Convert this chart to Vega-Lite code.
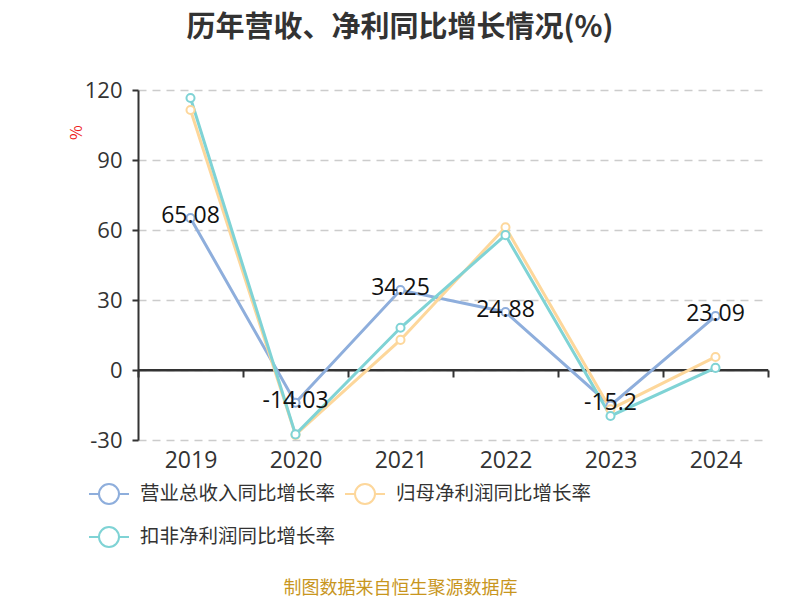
{
  "$schema": "https://vega.github.io/schema/vega-lite/v6.json",
  "width": 630,
  "height": 350,
  "autosize": {"type": "none"},
  "padding": {"left": 138, "top": 90, "right": 32, "bottom": 160},
  "background": "white",
  "config": {
    "font": "Noto Sans CJK SC",
    "view": {"stroke": null}
  },
  "title": {
    "text": "历年营收、净利同比增长情况(%)",
    "fontSize": 29,
    "fontWeight": "bold",
    "color": "#333333",
    "anchor": "middle",
    "dx": -53,
    "offset": 36
  },
  "data": {
    "values": [
      {"year": "2019", "series": "营业总收入同比增长率", "value": 65.08},
      {"year": "2020", "series": "营业总收入同比增长率", "value": -14.03},
      {"year": "2021", "series": "营业总收入同比增长率", "value": 34.25},
      {"year": "2022", "series": "营业总收入同比增长率", "value": 24.88},
      {"year": "2023", "series": "营业总收入同比增长率", "value": -15.2},
      {"year": "2024", "series": "营业总收入同比增长率", "value": 23.09},
      {"year": "2019", "series": "归母净利润同比增长率", "value": 111.4},
      {"year": "2020", "series": "归母净利润同比增长率", "value": -27.8},
      {"year": "2021", "series": "归母净利润同比增长率", "value": 12.9},
      {"year": "2022", "series": "归母净利润同比增长率", "value": 61.2},
      {"year": "2023", "series": "归母净利润同比增长率", "value": -16.8},
      {"year": "2024", "series": "归母净利润同比增长率", "value": 5.6},
      {"year": "2019", "series": "扣非净利润同比增长率", "value": 116.6},
      {"year": "2020", "series": "扣非净利润同比增长率", "value": -27.6},
      {"year": "2021", "series": "扣非净利润同比增长率", "value": 18.1},
      {"year": "2022", "series": "扣非净利润同比增长率", "value": 57.8},
      {"year": "2023", "series": "扣非净利润同比增长率", "value": -19.7},
      {"year": "2024", "series": "扣非净利润同比增长率", "value": 0.9}
    ]
  },
  "layer": [
    {
      "mark": {"type": "rule", "color": "#333333", "strokeWidth": 2},
      "encoding": {"y": {"datum": 0, "type": "quantitative", "scale": {"domain": [-30, 120], "nice": false}}}
    },
    {
      "mark": {"type": "line", "strokeWidth": 3},
      "encoding": {
        "x": {
          "field": "year", "type": "ordinal",
          "scale": {"paddingInner": 0, "paddingOuter": 0},
          "axis": {
            "title": "制图数据来自恒生聚源数据库",
            "titleColor": "#c8961e",
            "titleFontSize": 18,
            "titleFontWeight": "normal",
            "titleX": 262,
            "titleY": 218,
            "titleBaseline": "middle",
            "titleAnchor": null,
            "offset": -70,
            "labelAngle": 0,
            "labelFont": "Open Sans",
            "labelFontSize": 23,
            "labelColor": "#333333",
            "labelPadding": 72,
            "domainColor": "#333333",
            "domainWidth": 2,
            "tickColor": "#333333",
            "tickWidth": 2,
            "tickSize": 7,
            "tickBand": "extent",
            "grid": false
          }
        },
        "y": {
          "field": "value", "type": "quantitative",
          "scale": {"domain": [-30, 120], "nice": false},
          "axis": {
            "values": [-30, 0, 30, 60, 90, 120],
            "labelExpr": "replace(datum.label, '−', '-')",
            "title": "%",
            "titleColor": "#ee2222",
            "titleFontSize": 16,
            "titleFontWeight": "normal",
            "titleX": -62,
            "titleY": 42,
            "titleAngle": -90,
            "titleBaseline": "middle",
            "titleAlign": "center",
            "labelFont": "Open Sans",
            "labelFontSize": 22,
            "labelColor": "#333333",
            "labelPadding": 10,
            "domainColor": "#333333",
            "domainWidth": 2,
            "tickColor": "#333333",
            "tickWidth": 2,
            "tickSize": 6,
            "grid": true,
            "gridColor": "#cccccc",
            "gridDash": [8, 6],
            "gridWidth": 1.5
          }
        },
        "color": {
          "field": "series", "type": "nominal",
          "sort": ["营业总收入同比增长率", "归母净利润同比增长率", "扣非净利润同比增长率"],
          "scale": {
            "domain": ["营业总收入同比增长率", "归母净利润同比增长率", "扣非净利润同比增长率"],
            "range": ["#8eaedc", "#fdd79b", "#7fd3d5"]
          },
          "legend": {
            "title": null,
            "orient": "none",
            "direction": "horizontal",
            "legendX": -50,
            "legendY": 383,
            "columns": 2,
            "columnPadding": 5,
            "rowPadding": 8,
            "symbolType": "M-1,0L-0.5,0M0.5,0L1,0M-0.5,0A0.5,0.5,0,1,1,0.5,0A0.5,0.5,0,1,1,-0.5,0",
            "symbolSize": 1600,
            "symbolStrokeWidth": 2,
            "symbolFillColor": "white",
            "labelFontSize": 19.5,
            "labelColor": "#333333",
            "labelOffset": 10,
            "labelLimit": 400
          }
        },
        "order": {"field": "year"}
      }
    },
    {
      "mark": {"type": "point", "shape": "circle", "filled": false, "fill": "white", "fillOpacity": 1, "strokeWidth": 2, "size": 65, "opacity": 1},
      "encoding": {
        "x": {"field": "year", "type": "ordinal"},
        "y": {"field": "value", "type": "quantitative"},
        "color": {"field": "series", "type": "nominal", "legend": null}
      }
    },
    {
      "transform": [{"filter": "datum.series === '营业总收入同比增长率'"}],
      "mark": {"type": "text", "font": "Open Sans", "fontSize": 23, "color": "#111111", "baseline": "middle", "dy": -2},
      "encoding": {
        "x": {"field": "year", "type": "ordinal"},
        "y": {"field": "value", "type": "quantitative"},
        "text": {"field": "value", "type": "nominal"}
      }
    }
  ]
}
